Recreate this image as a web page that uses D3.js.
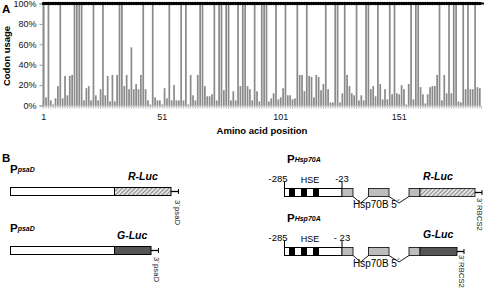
<!DOCTYPE html>
<html><head><meta charset="utf-8">
<script src="https://cdn.jsdelivr.net/npm/d3@7"></script>
<style>body{margin:0;background:#fff}svg{display:block;font-family:"Liberation Sans",Arial,sans-serif}</style>
</head><body><svg id="c" width="484" height="289"></svg>
<script>
// Panel A data: codon usage (%) per amino acid position
const codonUsage = [
 100,8,100,5,1,7,19,100,7,29, 10,29,30,100,100,100,100,5,17,19,
 5,100,10,5,16,100,10,29,4,30, 4,30,100,100,19,30,16,57,16,21,
 16,30,100,16,5,1,100,8,5,5, 1,17,7,
 100,5,20,5,5,100,5,100,1,30, 10,5,30,100,100,19,9,9,11,100,
 5,100,100,15,100,100,5,14,5,100, 19,100,100,19,16,5,100,14,4,100,
 100,100,4,7,12,100,6,8,17,100, 10,10,6,7,100,30,30,14,100,29,
 28,8,
 30,28,15,21,100,16,3,3,100,100, 3,12,100,30,19,12,10,100,5,10,
 5,100,100,16,19,9,100,21,6,16, 6,100,11,100,12,11,20,16,1,21,
 100,6,100,100,18,11,2,11,18,19, 19,30,100,5,30,12,100,12,100,100,
 4,3,100,16,100,16,16,100,18,17
];
const xTickLabels = ["1","51","101","151"];
const yTicks = [0,20,40,60,80,100];
const maxUsage = 100;

// Panel B labels
const constructLabels = {
  psaD: {promoter:"psaD", terminator:"3´psaD"},
  hsp: {promoter:"Hsp70A", terminator:"3´RBCS2", intron:"Hsp70B 5´", hse:"HSE", start:"-285"},
  reporters: ["R-Luc","G-Luc"],
  endMarks: ["-23","- 23"]
};

const svg = d3.select("#c");
const defs = svg.append("defs");
const pat = defs.append("pattern").attr("id","hatch").attr("width",3).attr("height",3)
  .attr("patternUnits","userSpaceOnUse").attr("patternTransform","rotate(45)");
pat.append("rect").attr("width",3).attr("height",3).attr("fill","#e4e4e4");
pat.append("line").attr("x1",0.5).attr("y1",0).attr("x2",0.5).attr("y2",3).attr("stroke","#8a8a8a").attr("stroke-width",1.1);

// ---------- Panel A ----------
const positions = codonUsage.map((d,i)=>i+1);
const x = d3.scaleBand().domain(positions).range([42.5, 481]).paddingInner(0.28).paddingOuter(0.14);
const y = d3.scaleLinear().domain([0,100]).range([105.5, 3.5]);

svg.append("text").attr("x",2).attr("y",13).attr("font-size",11.5).attr("font-weight","bold").text("A");

const gy = svg.append("g").attr("transform","translate(42.5,0)")
  .call(d3.axisLeft(y).tickValues(yTicks).tickFormat(d=>d+"%").tickSize(3).tickPadding(3));
gy.select(".domain").attr("stroke","#999");
gy.selectAll(".tick line").attr("stroke","#999");
gy.selectAll("text").attr("font-size",9).attr("fill","#111").attr("font-family","Liberation Sans, Arial");

const gx = svg.append("g").attr("transform","translate(0,105.5)")
  .call(d3.axisBottom(x).tickValues(positions).tickSize(3).tickPadding(5)
    .tickFormat(d => xTickLabels.includes(String(d)) ? String(d) : ""));
gx.select(".domain").attr("stroke","#bbb");
gx.selectAll(".tick line").attr("stroke","#bbb");
gx.selectAll("text").attr("font-size",9).attr("fill","#111").attr("font-family","Liberation Sans, Arial");

svg.append("g").selectAll("rect").data(codonUsage).join("rect")
  .attr("x",(d,i)=>x(positions[i])).attr("width",x.bandwidth())
  .attr("y",d=>y(d)).attr("height",d=>y(0)-y(d)).attr("fill","#8a8a8a");

svg.append("line").attr("x1",42.5).attr("x2",484).attr("y1",y(maxUsage)).attr("y2",y(maxUsage))
  .attr("stroke","#000").attr("stroke-width",2);
svg.append("g").selectAll("circle").data(positions).join("circle")
  .attr("cx",d=>x(d)+x.bandwidth()/2).attr("cy",y(maxUsage)).attr("r",1.7).attr("fill","#000");

svg.append("text").attr("transform","translate(9.5,56) rotate(-90)").attr("text-anchor","middle")
  .attr("font-size",9.5).attr("font-weight","bold").text("Codon usage");
svg.append("text").attr("x",262).attr("y",134).attr("text-anchor","middle")
  .attr("font-size",9.5).attr("font-weight","bold").text("Amino acid position");

// ---------- Panel B ----------
svg.append("text").attr("x",2).attr("y",162).attr("font-size",11.5).attr("font-weight","bold").text("B");

function promoterLabel(x0, yb, sub){
  const t = svg.append("text").attr("x",x0).attr("y",yb).attr("font-weight","bold");
  t.append("tspan").attr("font-size",11.5).text("P");
  t.append("tspan").attr("font-size",7).attr("font-style","italic").attr("dy",-1.5).text(sub);
}
function terminator(xs, yc, len, label, tx, ty){
  svg.append("line").attr("x1",xs).attr("x2",xs+len).attr("y1",yc).attr("y2",yc).attr("stroke","#000").attr("stroke-width",1.3);
  svg.append("line").attr("x1",xs+len).attr("x2",xs+len).attr("y1",yc-2.5).attr("y2",yc+2.5).attr("stroke","#000").attr("stroke-width",1);
  svg.append("text").attr("transform",`translate(${tx},${ty}) rotate(90)`).attr("font-size",7.8).attr("fill","#222").text(label);
}
function reporter(xr, yb, label){
  svg.append("text").attr("x",xr).attr("y",yb).attr("font-size",10.5).attr("font-weight","bold").attr("font-style","italic").text(label);
}

// left constructs
[[0,"url(#hatch)",171,constructLabels.reporters[0],175,200,128,180],
 [59,"#555",151,constructLabels.reporters[1],154,257,117,239]].forEach(([dy,fill,xe,rep,tx,ty,rx,ry])=>{
  promoterLabel(10,173+dy,constructLabels.psaD.promoter);
  reporter(rx, ry, rep);
  svg.append("rect").attr("x",10.5).attr("y",187.5+dy).attr("width",104).attr("height",8).attr("fill","#fff").attr("stroke","#000");
  svg.append("rect").attr("x",114.5).attr("y",187.5+dy).attr("width",xe-114.5).attr("height",8).attr("fill",fill).attr("stroke","#000");
  terminator(xe, 191.5+dy, 7.5, constructLabels.psaD.terminator, tx, ty);
});

// right constructs
[[0,"url(#hatch)",475,constructLabels.reporters[0],constructLabels.endMarks[0],477,198,180],
 [59,"#555",457,constructLabels.reporters[1],constructLabels.endMarks[1],459,255,238]].forEach(([dy,fill,xe,rep,em,tx,ty,ry])=>{
  const top = 188.5+dy, h = 8, yc = top+h;
  promoterLabel(287,163+dy,constructLabels.hsp.promoter);
  reporter(423, ry, rep);
  svg.append("text").attr("x",278).attr("y",182+dy).attr("text-anchor","middle").attr("font-size",9.5).text(constructLabels.hsp.start);
  svg.append("text").attr("x",310).attr("y",183+dy).attr("text-anchor","middle").attr("font-size",9).text(constructLabels.hsp.hse);
  svg.append("text").attr("x",342).attr("y",182+dy).attr("text-anchor","middle").attr("font-size",9.5).text(em);
  svg.append("line").attr("x1",284.5).attr("x2",284.5).attr("y1",182+dy).attr("y2",yc).attr("stroke","#000");
  svg.append("rect").attr("x",284.5).attr("y",top).attr("width",57.5).attr("height",h).attr("fill","#fff").attr("stroke","#000");
  [289,301,313].forEach(bx=>svg.append("rect").attr("x",bx).attr("y",top).attr("width",6).attr("height",h).attr("fill","#000"));
  svg.append("line").attr("x1",342).attr("x2",342).attr("y1",182+dy).attr("y2",top).attr("stroke","#000");
  const exon = (a,b,f)=>svg.append("rect").attr("x",a).attr("y",top).attr("width",b-a).attr("height",h).attr("fill",f).attr("stroke","#000").attr("stroke-width",0.8);
  exon(342,353,"#bdbdbd"); exon(368.5,389,"#bdbdbd"); exon(409,420,"#bdbdbd"); exon(420,xe,fill);
  const v = (a,b)=>svg.append("path").attr("d",`M${a},${yc} L${(a+b)/2},${yc+6.5} L${b},${yc}`).attr("fill","none").attr("stroke","#000").attr("stroke-width",0.9);
  v(353,368.5); v(389,409);
  svg.append("text").attr("x",353).attr("y",208+dy).attr("font-size",10).text(constructLabels.hsp.intron);
  terminator(xe, top+h/2, 7, constructLabels.hsp.terminator, tx, ty);
});
</script></body></html>
